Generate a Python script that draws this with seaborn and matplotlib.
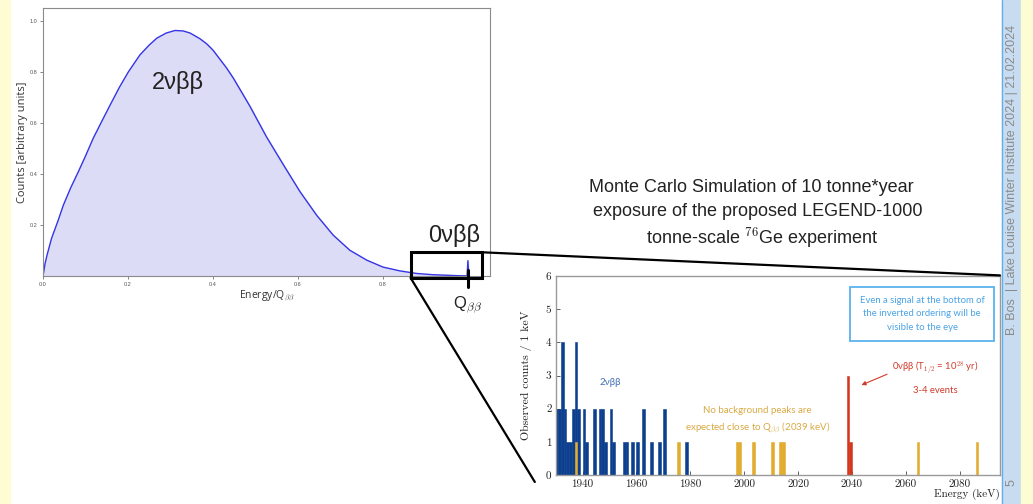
import numpy as np
import pandas as pd
import matplotlib
matplotlib.use("Agg")
import matplotlib.pyplot as plt
import seaborn as sns
from matplotlib.patches import Rectangle, ConnectionPatch
from matplotlib.lines import Line2D

# 2νββ summed-electron spectrum (arbitrary units) vs Energy/Qββ, 0νββ line at 1.0
spec_x = [0.0, 0.005, 0.01, 0.02, 0.035, 0.048, 0.065, 0.083, 0.1, 0.118,
          0.138, 0.158, 0.18, 0.201, 0.228, 0.25, 0.268, 0.29, 0.311, 0.33,
          0.346, 0.369, 0.385, 0.4, 0.416, 0.432, 0.448, 0.464, 0.487, 0.526,
          0.566, 0.605, 0.644, 0.683, 0.722, 0.762, 0.8, 0.84, 0.879, 0.918,
          0.95, 0.98, 0.995, 0.998, 1.0, 1.002]
spec_y = [0.0, 0.05, 0.085, 0.147, 0.215, 0.278, 0.345, 0.408, 0.47, 0.539,
          0.605, 0.67, 0.74, 0.80, 0.866, 0.905, 0.932, 0.952, 0.962, 0.960,
          0.952, 0.93, 0.91, 0.885, 0.85, 0.815, 0.775, 0.73, 0.665, 0.545,
          0.435, 0.33, 0.238, 0.16, 0.101, 0.062, 0.035, 0.02, 0.01, 0.005,
          0.003, 0.001, 0.0005, 0.0, 0.06, 0.0]
left_xticks = [0.0, 0.2, 0.4, 0.6, 0.8]
left_yticks = [0.2, 0.4, 0.6, 0.8, 1.0]

# Simulated LEGEND-1000 spectrum, 10 t*yr, counts per 1 keV bin (bin start in keV)
bins_2nbb = [1930, 1931, 1932, 1933, 1934, 1935, 1936, 1937, 1938, 1940, 1941,
             1944, 1946, 1947, 1948, 1950, 1951, 1955, 1956, 1958, 1960, 1962,
             1965, 1968, 1970, 1978]
counts_2nbb = [2, 2, 4, 2, 1, 1, 2, 4, 2, 2, 1,
               2, 2, 2, 1, 2, 1, 1, 1, 1, 1, 2,
               1, 1, 2, 1]
bins_bkg = [1937, 1975, 1997, 1998, 2003, 2010, 2013, 2014, 2064, 2086]
counts_bkg = [1, 1, 1, 1, 1, 1, 1, 1, 1, 1]
bins_0nbb = [2038, 2039]
counts_0nbb = [3, 1]
hist_xticks = [1940, 1960, 1980, 2000, 2020, 2040, 2060, 2080]
hist_yticks = [0, 1, 2, 3, 4, 5, 6]

sns.set_style("white")
plt.rcParams["font.family"] = ["Liberation Sans", "DejaVu Sans"]
plt.rcParams["mathtext.fontset"] = "cm"

fig = plt.figure(figsize=(10.33, 5.04), dpi=100)
W, H = 1033.0, 504.0

# slide decorations
fig.add_artist(Rectangle((0, 0), 10 / W, 1, transform=fig.transFigure,
                         color="#fdfcd3", zorder=0))
fig.add_artist(Rectangle((1002 / W, 0), 19 / W, 1, transform=fig.transFigure,
                         color="#c7dcf0", zorder=0))
fig.add_artist(Rectangle((1021 / W, 0), 12 / W, 1, transform=fig.transFigure,
                         color="#fdfcd3", zorder=0))
fig.add_artist(Line2D([1002 / W, 1002 / W], [0, 1], transform=fig.transFigure,
                      color="#62b0ea", lw=1.0))
fig.text(1012 / W, 1 - 180 / H,
         "B. Bos  | Lake Louise Winter Institute 2024 | 21.02.2024",
         rotation=90, color="#8a8a8a", fontsize=9, ha="center", va="center")
fig.text(1012 / W, 1 - 483 / H, "5", rotation=90, color="#8a8a8a",
         fontsize=9, ha="center", va="center")

# ---- left panel: full 2νββ spectrum ----
ax1 = fig.add_axes([43 / W, 1 - 276 / H, 447 / W, 268 / H])
sns.lineplot(x=spec_x, y=spec_y, ax=ax1, color="#3535e6", lw=1.0)
ax1.fill_between(spec_x, spec_y, color="#dcdcf6", zorder=0)
ax1.set_xlim(0, 1.052)
ax1.set_ylim(0, 1.05)
ax1.set_xticks(left_xticks)
ax1.set_xticklabels([f"{v:.1f}" for v in left_xticks])
ax1.set_yticks(left_yticks)
ax1.set_yticklabels([f"{v:.1f}" for v in left_yticks])
ax1.tick_params(labelsize=4, colors="#555555", length=2, width=0.5,
                left=True, bottom=True, pad=2)
for s in ax1.spines.values():
    s.set_color("#8a8a8a")
    s.set_linewidth(0.8)
ax1.set_ylabel("Counts [arbitrary units]", fontsize=8, color="#333333",
               family=["Open Sans", "DejaVu Sans"], labelpad=1)
ax1.set_xlabel(r"Energy/Q$_{\beta\beta}$", fontsize=7.5, color="#333333",
               family=["Open Sans", "DejaVu Sans"], labelpad=1)
ax1.text(0.318, 0.757, "2νββ", fontsize=17, color="#222222",
         ha="center", va="center")
ax1.text(0.968, 0.16, "0νββ", fontsize=17, color="#222222",
         ha="center", va="center", clip_on=False)

# zoom window around Qββ
ax1.add_patch(Rectangle((0.865, -0.007), 0.167, 0.1, fill=False, lw=2.2,
                        ec="black", clip_on=False, zorder=6))
ax1.plot([1.0, 1.0], [0.024, -0.045], color="black", lw=2.2,
         clip_on=False, zorder=6)
ax1.text(1.0, -0.115, r"Q$_{\beta\beta}$", fontsize=12, color="#222222",
         ha="center", va="center", clip_on=False)

# ---- right panel: simulated Monte Carlo spectrum ----
ax2 = fig.add_axes([555.7 / W, 1 - 475 / H, 444.3 / W, 199 / H])
c_blue, c_orange, c_red = "#0c3f8e", "#e2ac2e", "#d5371b"
for b, c, col in [(bins_2nbb, counts_2nbb, c_blue),
                  (bins_bkg, counts_bkg, c_orange),
                  (bins_0nbb, counts_0nbb, c_red)]:
    df = pd.DataFrame({"energy": np.array(b, dtype=float) + 0.5,
                       "counts": np.array(c, dtype=float)})
    sns.histplot(data=df, x="energy", weights="counts", binwidth=1,
                 binrange=(1930, 2095), color=col, alpha=1, linewidth=0.4,
                 edgecolor=col, ax=ax2)
ax2.set_xlim(1930, 2095)
ax2.set_ylim(0, 6)
ax2.set_xticks(hist_xticks)
ax2.set_xticklabels([str(v) for v in hist_xticks], fontfamily="cmr10")
ax2.set_yticks(hist_yticks)
ax2.set_yticklabels([str(v) for v in hist_yticks], fontfamily="cmr10")
ax2.tick_params(labelsize=8, colors="#222222", direction="in", length=3,
                width=0.5, left=True, bottom=True, pad=3)
for s in ax2.spines.values():
    s.set_color("#9a9a9a")
    s.set_linewidth(1.0)
ax2.set_xlabel("Energy (keV)", fontsize=8, fontfamily="cmr10",
               loc="right", labelpad=0, color="#222222")
ax2.set_ylabel("Observed counts / 1 keV", fontsize=8.5, fontfamily="cmr10",
               labelpad=10, color="#222222")

ax2.text(1950.3, 2.8, "2νββ", fontsize=7, color="#3f6db5",
         family=["Lato", "DejaVu Sans"], ha="center", va="center")
ax2.text(2005, 1.65,
         "No background peaks are\n" r"expected close to Q$_{\beta\beta}$ (2039 keV)",
         fontsize=7, color="#d9aa45", family=["Lato", "DejaVu Sans"],
         ha="center", va="center", linespacing=1.5)
ax2.text(0.854, 0.535, r"0νββ (T$_{1/2}$ = 10$^{28}$ yr)", transform=ax2.transAxes,
         fontsize=6.8, color="#d03a2a", family=["Lato", "DejaVu Sans"],
         ha="center", va="center")
ax2.text(0.854, 0.427, "3-4 events", transform=ax2.transAxes,
         fontsize=6.8, color="#d03a2a", family=["Lato", "DejaVu Sans"],
         ha="center", va="center")
ax2.annotate("", xy=(2042.6, 2.68), xytext=(2054, 3.07),
             arrowprops=dict(arrowstyle="-|>", color="#d03a2a", lw=0.8,
                             mutation_scale=6))
ax2.text(0.8245, 0.81,
         "Even a signal at the bottom of\nthe inverted ordering will be\nvisible to the eye",
         transform=ax2.transAxes, fontsize=6.8, color="#4aa3e6",
         family=["Lato", "DejaVu Sans"], ha="center", va="center",
         linespacing=1.6,
         bbox=dict(boxstyle="square,pad=1.0", fc="white", ec="#5ab3ee", lw=1.3))

# title above the simulation
for txt, xx, yy in [("Monte Carlo Simulation of 10 tonne*year", 751, 187),
                    ("exposure of the proposed LEGEND-1000", 758, 211),
                    (r"tonne-scale $^{76}$Ge experiment", 762, 238)]:
    fig.text(xx / W, 1 - yy / H, txt, fontsize=13, color="#222222",
             ha="center", va="center")

# lines from the zoom window to the simulation panel
fig.add_artist(ConnectionPatch(xyA=(1.032, 0.093), coordsA=ax1.transData,
                               xyB=(1.0, 1.003), coordsB=ax2.transAxes,
                               color="black", lw=1.6, zorder=7))
fig.add_artist(ConnectionPatch(xyA=(0.865, -0.007), coordsA=ax1.transData,
                               xyB=(-0.047, -0.035), coordsB=ax2.transAxes,
                               color="black", lw=1.6, zorder=7))

fig.savefig("out.png", dpi=100, facecolor="white")
